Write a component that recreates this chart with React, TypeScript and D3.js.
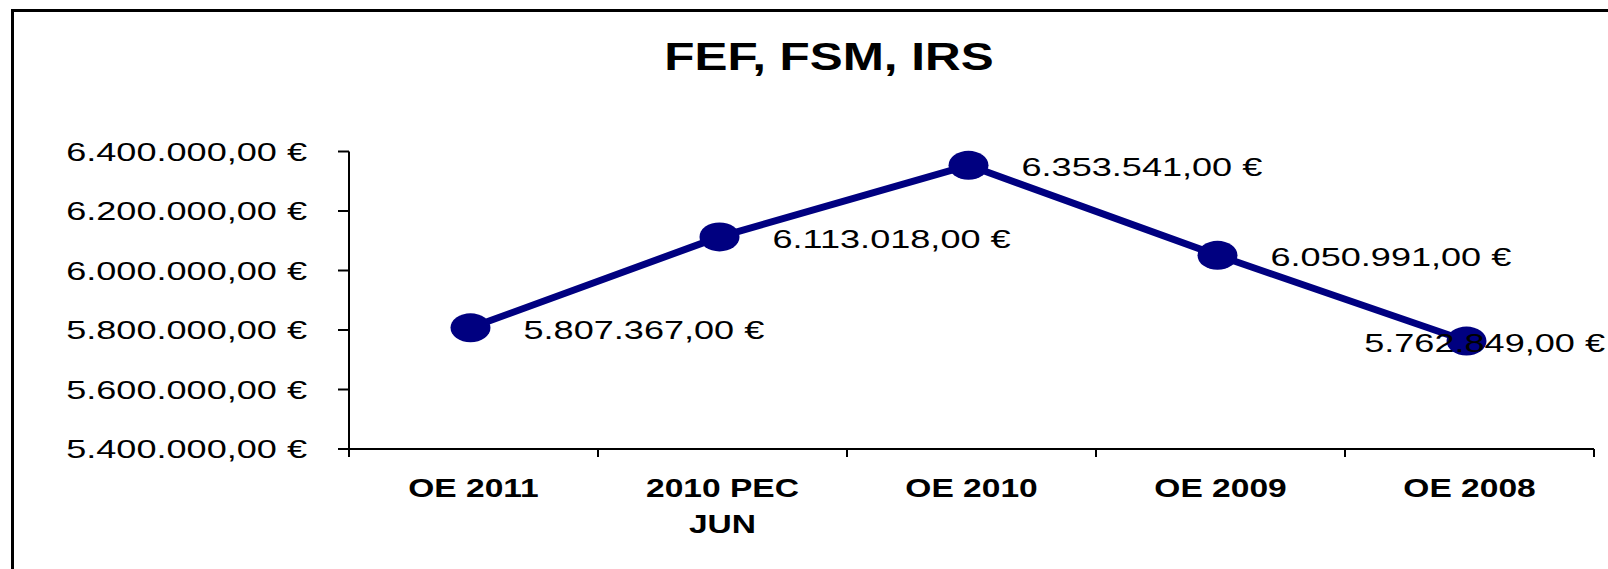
import React from "react";
import * as d3 from "d3";

const categories: string[][] = [["OE 2011"], ["2010 PEC", "JUN"], ["OE 2010"], ["OE 2009"], ["OE 2008"]];
const values: number[] = [5807367, 6113018, 6353541, 6050991, 5762849];
const yTicks: number[] = [5400000, 5600000, 5800000, 6000000, 6200000, 6400000];
const title = "FEF, FSM, IRS";

const W = 1608;
const H = 569;
const FONT = "Arial, 'Liberation Sans', sans-serif";
const NAVY = "#000080";

const fmt = (v: number) => {
  const s = Math.round(v).toString().replace(/\B(?=(\d{3})+(?!\d))/g, ".");
  return `${s},00 €`;
};

function measure(text: string, font: string): number {
  const c = document.createElement("canvas").getContext("2d");
  if (!c) return text.length * 14;
  c.font = font;
  return c.measureText(text).width;
}

export default function App() {
  const keys = categories.map((c) => c.join(" "));
  const x = d3.scaleBand<string>().domain(keys).range([349, 1594]).paddingInner(0).paddingOuter(0);
  const y = d3.scaleLinear().domain([5400000, 6400000]).range([449, 151.5]);
  const bw = x.bandwidth();
  const markerShift = -3;
  const px = (i: number) => (x(keys[i]) as number) + bw / 2 + markerShift;

  const line = d3
    .line<number>()
    .x((_, i) => px(i))
    .y((d) => y(d));

  const labelFontSize = 25.6;
  const labelSx = 1.41;
  const labelFont = `${labelFontSize}px Arial, 'Liberation Sans', sans-serif`;

  const boundaries = keys.map((k) => x(k) as number).concat([x.range()[1]]);

  return (
    <svg
      width={W}
      height={H}
      style={{ position: "absolute", left: 0, top: 0, display: "block", background: "#fff" }}
      fontFamily={FONT}
    >
      <rect x={0} y={0} width={W} height={H} fill="#fff" />
      {/* chart border (left & top visible) */}
      <path d={`M12.5,${H} L12.5,10.5 L${W},10.5`} fill="none" stroke="#000" strokeWidth={3} />

      {/* title */}
      <g transform={`translate(829,70) scale(1.3,1)`}>
        <text textAnchor="middle" fontWeight="bold" fontSize={38} fill="#000">
          {title}
        </text>
      </g>

      {/* y axis */}
      <line x1={349} x2={349} y1={y(6400000)} y2={y(5400000)} stroke="#000" strokeWidth={2} />
      {yTicks.map((t) => (
        <g key={t}>
          <line x1={338} x2={349} y1={y(t)} y2={y(t)} stroke="#000" strokeWidth={2} />
          <g transform={`translate(307,${y(t) + 9}) scale(${labelSx},1)`}>
            <text textAnchor="end" fontSize={labelFontSize} fill="#000">
              {fmt(t)}
            </text>
          </g>
        </g>
      ))}

      {/* x axis */}
      <line x1={338} x2={x.range()[1]} y1={449} y2={449} stroke="#000" strokeWidth={2} />
      {boundaries.map((b, i) => (
        <line key={i} x1={b} x2={b} y1={449} y2={457} stroke="#000" strokeWidth={2} />
      ))}
      {categories.map((lines, i) => (
        <g key={i} transform={`translate(${(x(keys[i]) as number) + bw / 2},497) scale(1.29,1)`}>
          <text textAnchor="middle" fontWeight="bold" fontSize={26} fill="#000">
            {lines.map((l, j) => (
              <tspan key={j} x={0} dy={j === 0 ? 0 : 36}>
                {l}
              </tspan>
            ))}
          </text>
        </g>
      ))}

      {/* line */}
      <path d={line(values) || ""} fill="none" stroke={NAVY} strokeWidth={7} strokeLinejoin="round" />
      {values.map((v, i) => (
        <ellipse key={i} cx={px(i)} cy={y(v)} rx={20} ry={14.5} fill={NAVY} />
      ))}

      {/* data labels */}
      {values.map((v, i) => {
        const txt = fmt(v);
        const w = measure(txt, labelFont) * labelSx;
        let left = px(i) + 53;
        if (left + w > W - 3) left = W - 3 - w;
        return (
          <g key={i} transform={`translate(${left},${y(v) + 11}) scale(${labelSx},1)`}>
            <text textAnchor="start" fontSize={labelFontSize} fill="#000">
              {txt}
            </text>
          </g>
        );
      })}
    </svg>
  );
}
